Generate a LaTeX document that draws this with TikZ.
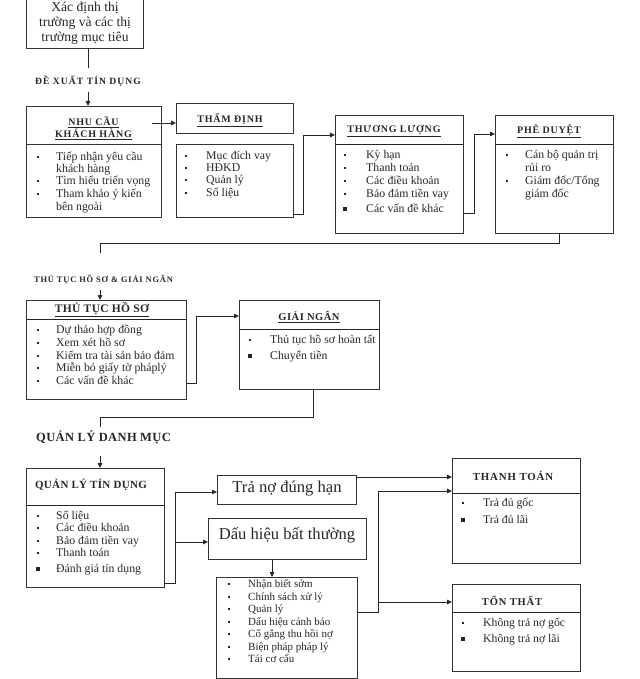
\documentclass[tikz,border=0pt]{standalone}
\usepackage{fontspec}
\setmainfont{Liberation Serif}
\usetikzlibrary{arrows.meta}
\newcounter{itm}
% #1 bullet x, #2 text x, #3 y (visual centre), #4 bullet size (0 = none), #5 text
\newcommand\bitem[5]{%
  \stepcounter{itm}%
  \ifdim #4pt>0pt \fill[ink] (#1,#3) ++(-#4/2,-#4/2) rectangle ++(#4,#4);\fi
  \node[itemtxt, anchor=base west] (it\arabic{itm}) at (#2,#3+3.8) {#5};}
\begin{document}
\begin{tikzpicture}[x=1pt,y=-1pt,
  ink/.style={black!85},
  box/.style={draw=black!80, line width=0.8pt, inner sep=0pt, outer sep=0pt, anchor=north west},
  conn/.style={draw=black!85, line width=0.8pt},
  arr/.style={conn, -{Triangle[length=5pt,width=4.5pt]}},
  itemtxt/.style={inner sep=0pt, text=black!85, font=\fontsize{11.8}{13}\selectfont},
  hdr/.style={inner sep=0pt, text=black!85, align=center, font=\fontsize{10}{11}\selectfont\bfseries\addfontfeatures{LetterSpace=8}},
]
\useasboundingbox (0,0) rectangle (639,679);

% ---------- boxes ----------
\node[box, minimum width=117pt, minimum height=53pt] (target) at (26,-5) {};
\node[inner sep=0pt, text=black!85, align=center, font=\fontsize{13.6}{14.8}\selectfont] (targetT) at (85,23.5) {Xác định thị\\trường và các thị\\trường mục tiêu};

\node[box, minimum width=135pt, minimum height=38pt] (nhuH) at (26,106) {};
\node[box, minimum width=135pt, minimum height=73pt] (nhuL) at (26,144) {};
\node[box, minimum width=117pt, minimum height=30pt] (thamH) at (176,103) {};
\node[box, minimum width=117pt, minimum height=73pt] (thamL) at (176,144) {};
\node[box, minimum width=128pt, minimum height=118pt] (thuong) at (335,115) {};
\draw[conn] (335,144) -- (463,144);
\node[box, minimum width=118pt, minimum height=118pt] (phe) at (495,115) {};
\draw[conn] (495,144) -- (613,144);
\node[box, minimum width=160pt, minimum height=99pt] (thutuc) at (26,300) {};
\draw[conn] (26,319) -- (186,319);
\node[box, minimum width=140pt, minimum height=89pt] (giai) at (239,300) {};
\draw[conn] (239,329) -- (379,329);
\node[box, minimum width=138pt, minimum height=119pt] (qltd) at (26,468) {};
\draw[conn] (26,505) -- (164,505);
\node[box, minimum width=139pt, minimum height=29pt] (trano) at (217,475) {};
\node[box, minimum width=158pt, minimum height=41pt] (dauhieu) at (208,518) {};
\node[box, minimum width=141pt, minimum height=101pt] (daulist) at (216,577) {};
\node[box, minimum width=128pt, minimum height=105pt] (thanhtoan) at (452,458) {};
\draw[conn] (452,493) -- (580,493);
\node[box, minimum width=128pt, minimum height=87pt] (tonthat) at (452,584) {};
\draw[conn] (452,612) -- (580,612);

% ---------- section labels ----------
\node[hdr, font=\fontsize{9.6}{10}\selectfont\bfseries\addfontfeatures{LetterSpace=11}] (lab1) at (88,81) {ĐỀ XUẤT TÍN DỤNG};
\node[hdr, font=\fontsize{8.4}{9}\selectfont\bfseries\addfontfeatures{LetterSpace=10}] (lab2) at (103.5,280) {THỦ TỤC HỒ SƠ \& GIẢI NGÂN};
\node[hdr, font=\fontsize{12.5}{13}\selectfont\bfseries\addfontfeatures{LetterSpace=3}] (lab3) at (103.5,437) {QUẢN LÝ DANH MỤC};

% ---------- headers ----------
\node[hdr, font=\fontsize{10}{11}\selectfont\bfseries\addfontfeatures{LetterSpace=8}] (nhuT) at (93.5,128) {\underline{NHU CẦU}\\[1pt]\underline{KHÁCH HÀNG}};
\node[hdr] (thamT) at (230,120) {\underline{THẨM ĐỊNH}};
\node[hdr] (thuongT) at (394,131) {\underline{THƯƠNG LƯỢNG}};
\node[hdr] (pheT) at (549,131) {\underline{PHÊ DUYỆT}};
\node[hdr, font=\fontsize{11.5}{13}\selectfont\bfseries\addfontfeatures{LetterSpace=3}] (thutucT) at (102,310) {\underline{THỦ TỤC HỒ SƠ}};
\node[hdr, font=\fontsize{10.5}{12}\selectfont\bfseries\addfontfeatures{LetterSpace=5}] (giaiT) at (309,317) {\underline{GIẢI NGÂN}};
\node[hdr, font=\fontsize{11}{12}\selectfont\bfseries\addfontfeatures{LetterSpace=3}] (qltdT) at (91,485) {QUẢN LÝ TÍN DỤNG};
\node[hdr, font=\fontsize{10.8}{12}\selectfont\bfseries\addfontfeatures{LetterSpace=8}] (thanhT) at (513,476) {THANH TOÁN};
\node[hdr, font=\fontsize{10.5}{12}\selectfont\bfseries\addfontfeatures{LetterSpace=8}] (tonT) at (512,601) {TỔN THẤT};
\node[inner sep=0pt, text=black!85, font=\fontsize{16.6}{18}\selectfont] (tranoT) at (287,489) {Trả nợ đúng hạn};
\node[inner sep=0pt, text=black!85, font=\fontsize{16.6}{18}\selectfont] (dauhieuT) at (287,535) {Dấu hiệu bất thường};

% ---------- lists ----------
\bitem{38}{56}{157}{2.8}{Tiếp nhận yêu cầu}
\bitem{38}{56}{169}{0}{khách hàng}
\bitem{38}{56}{181}{2.8}{Tìm hiểu triển vọng}
\bitem{38}{56}{194}{2.8}{Tham khảo ý kiến}
\bitem{38}{56}{207}{0}{bên ngoài}

\bitem{186}{206}{156}{2.8}{Mục đích vay}
\bitem{186}{206}{168}{2.8}{HĐKD}
\bitem{186}{206}{180}{2.8}{Quản lý}
\bitem{186}{206}{193}{2.8}{Số liệu}

\bitem{345}{366}{155}{2.8}{Kỳ hạn}
\bitem{345}{366}{168}{2.8}{Thanh toán}
\bitem{345}{366}{181}{2.8}{Các điều khoản}
\bitem{345}{366}{194}{2.8}{Bảo đảm tiền vay}
\bitem{345}{366}{209}{4}{Các vấn đề khác}

\bitem{507}{525}{155}{2.8}{Cán bộ quản trị}
\bitem{507}{525}{168}{0}{rủi ro}
\bitem{507}{525}{181}{2.8}{Giám đốc/Tổng}
\bitem{507}{525}{194}{0}{giám đốc}

\bitem{38}{56}{330}{2.8}{Dự thảo hợp đồng}
\bitem{38}{56}{343}{2.8}{Xem xét hồ sơ}
\bitem{38}{56}{356}{2.8}{Kiểm tra tài sản bảo đảm}
\bitem{38}{56}{368}{2.8}{Miễn bó giấy tờ pháplý}
\bitem{38}{56}{381}{2.8}{Các vấn đề khác}

\bitem{250}{270}{340}{2.8}{Thủ tục hồ sơ hoàn tất}
\bitem{250}{270}{356}{4}{Chuyển tiền}

\bitem{38}{56}{516}{2.8}{Số liệu}
\bitem{38}{56}{528}{2.8}{Các điều khoản}
\bitem{38}{56}{541}{2.8}{Bảo đảm tiền vay}
\bitem{38}{56}{553}{2.8}{Thanh toán}
\bitem{38}{56}{569}{4}{Đánh giá tín dụng}

\begin{scope}[itemtxt/.style={inner sep=0pt, text=black!85, font=\fontsize{11}{12}\selectfont}]
\bitem{229}{248}{584}{2.6}{Nhận biết sớm}
\bitem{229}{248}{597}{2.6}{Chính sách xử lý}
\bitem{229}{248}{609}{2.6}{Quản lý}
\bitem{229}{248}{622}{2.6}{Dấu hiệu cảnh báo}
\bitem{229}{248}{634}{2.6}{Cố gắng thu hồi nợ}
\bitem{229}{248}{647}{2.6}{Biện pháp pháp lý}
\bitem{229}{248}{659}{2.6}{Tái cơ cấu}
\end{scope}

\begin{scope}[itemtxt/.style={inner sep=0pt, text=black!85, font=\fontsize{11.7}{12}\selectfont}]
\bitem{463}{483}{503}{2.6}{Trả đủ gốc}
\bitem{463}{483}{520}{3.8}{Trả đủ lãi}
\bitem{463}{483}{623}{2.6}{Không trả nợ gốc}
\bitem{463}{483}{639}{3.8}{Không trả nợ lãi}
\end{scope}

% ---------- connectors ----------
\coordinate (c1) at (88,68);
\draw[conn] (target.south -| c1) -- (c1);
\coordinate (c2) at (88,92);
\draw[arr] (c2) -- (nhuH.north -| c2);
\coordinate (c3) at (152,123);
\draw[arr] (c3) -- (thamH.west |- c3);
\coordinate (c4) at (303,135);
\draw[arr] (thamL.east |- 0,214) -| (c4) -- (thuong.west |- c4);
\coordinate (c5) at (474,134);
\draw[arr] (thuong.east |- 0,213) -| (c5) -- (phe.west |- c5);
\coordinate (c6) at (559,243);
\coordinate (c7) at (100,253);
\draw[conn] (phe.south -| c6) -- (c6) -| (c7);
\coordinate (c8) at (100,290);
\draw[arr] (c8) -- (thutuc.north -| c8);
\coordinate (c9) at (196,316);
\draw[arr] (thutuc.east |- 0,383) -| (c9) -- (giai.west |- c9);
\coordinate (c10) at (313,417);
\coordinate (c11) at (100,427);
\draw[conn] (giai.south -| c10) -- (c10) -| (c11);
\coordinate (c12) at (100,456);
\draw[arr] (c12) -- (qltd.north -| c12);
\coordinate (c13) at (175,492);
\draw[arr] (qltd.east |- 0,583) -| (c13) -- (trano.west |- c13);
\coordinate (c14) at (175,542);
\draw[arr] (c14) -- (dauhieu.west |- c14);
\coordinate (c15) at (272,560);
\draw[arr] (dauhieu.south -| c15) -- (daulist.north -| c15);
\coordinate (c16) at (356,477);
\draw[arr] (trano.east |- c16) -- (thanhtoan.west |- c16);
\coordinate (c17) at (378,491);
\coordinate (c18) at (378,602);
\draw[arr] (daulist.east |- 0,612) -| (c17) -- (thanhtoan.west |- c17);
\draw[arr] (c18) -- (tonthat.west |- c18);
\end{tikzpicture}
\end{document}
